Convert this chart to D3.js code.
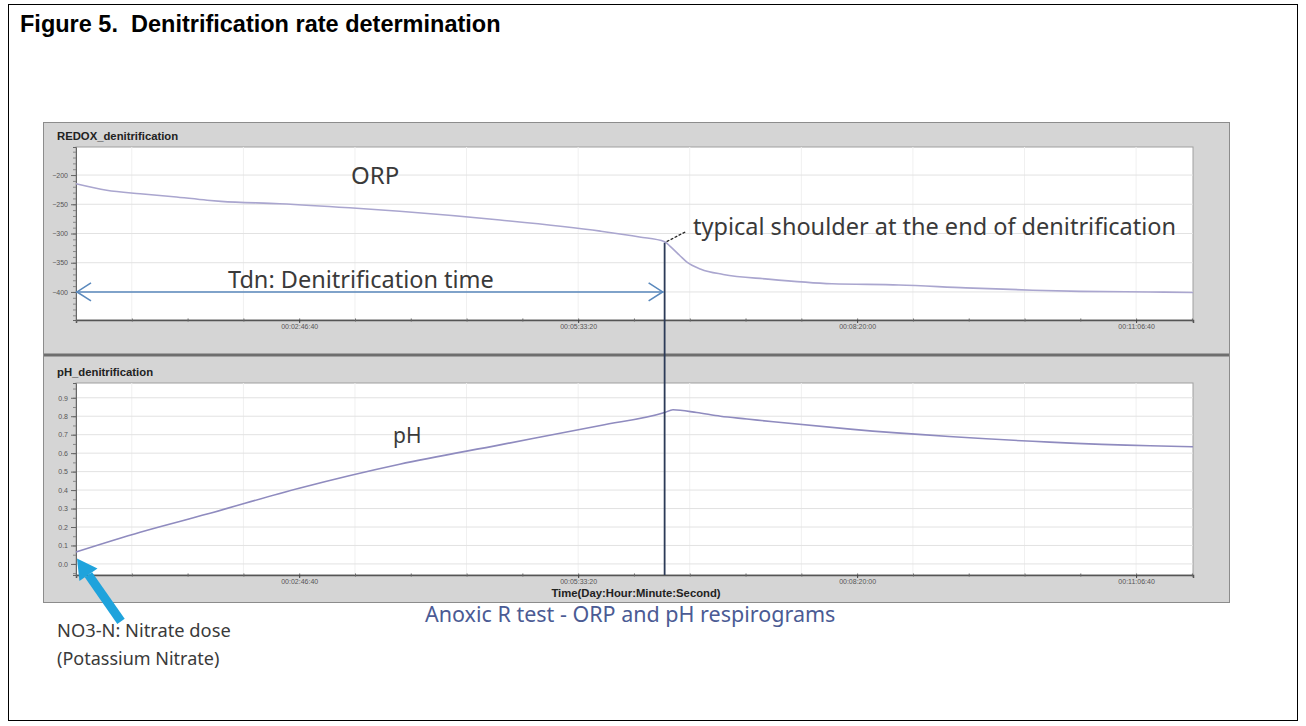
<!DOCTYPE html>
<html>
<head>
<meta charset="utf-8">
<script src="https://cdn.jsdelivr.net/npm/d3@7/dist/d3.min.js"></script>
<style>
    body { margin: 0; background: #fff; }
    svg { display: block; }
    .tick text { font-family: 'Liberation Sans', Arial, sans-serif; }
</style>
</head>
<body>
<svg id="chart" width="1306" height="726"></svg>
<script>
// time in seconds from start of the log
const orpTime = [2000, 3100, 4300, 5500, 6700, 7200, 9300, 11800, 13600, 17200, 20800, 22200, 23100,
    23300, 23650, 23900, 24400, 25200, 26800, 29100, 31500, 33900, 36300, 38000, 40500, 42040];
const orpValues = [-215, -226, -232, -237, -243, -245, -249, -256, -262, -277, -296, -306, -314,
    -322, -338, -349, -361, -370, -378, -386, -388, -393, -397, -399, -400, -401];

const phTime = [2000, 4300, 6700, 10000, 13600, 17200, 20800, 23100, 23400, 24250, 25100,
    26050, 27000, 29750, 33300, 36900, 40500, 42040];
const phValues = [0.065, 0.172, 0.27, 0.41, 0.54, 0.645, 0.75, 0.82, 0.835, 0.82, 0.80,
    0.785, 0.77, 0.73, 0.69, 0.66, 0.64, 0.635];

const orpTicks = [-200, -250, -300, -350, -400];
const phTicks = [0, 0.1, 0.2, 0.3, 0.4, 0.5, 0.6, 0.7, 0.8, 0.9];
const timeTicks = [10000, 20000, 30000, 40000];
const timeLabels = ['00:02:46:40', '00:05:33:20', '00:08:20:00', '00:11:06:40'];
const denitEnd = 23100;   // shoulder / end of denitrification

const svg = d3.select('#chart');
const annoFont = "'Noto Sans', 'Open Sans', sans-serif";
const uiFont = "'Liberation Sans', Arial, sans-serif";

// figure frame + title
svg.append('rect')
    .attr('x', 8.5).attr('y', 4.5)
    .attr('width', 1289).attr('height', 716)
    .attr('fill', '#fff').attr('stroke', '#000');

svg.append('text')
    .attr('x', 20).attr('y', 32)
    .attr('font-family', uiFont).attr('font-size', 23.5).attr('font-weight', 'bold')
    .style('white-space', 'pre')
    .text('Figure 5.  Denitrification rate determination');

// screenshot panel
svg.append('rect')
    .attr('x', 43.5).attr('y', 122.5)
    .attr('width', 1186).attr('height', 480)
    .attr('fill', '#d5d5d5').attr('stroke', '#8c8c8c');

svg.append('line')
    .attr('x1', 44).attr('x2', 1229)
    .attr('y1', 355).attr('y2', 355)
    .attr('stroke', '#6e6e6e').attr('stroke-width', 3);

const x = d3.scaleLinear().domain([2000, 42040]).range([76, 1193]);
const yOrp = d3.scaleLinear().domain([-152, -448]).range([147, 320]);
const yPh = d3.scaleLinear().domain([0.98, -0.06]).range([383, 575]);

function drawPanel(y, ticks, minorStep, fmt, title, times, values, color) {
    const [y0, y1] = y.range();
    const g = svg.append('g');

    g.append('rect')
        .attr('x', x.range()[0]).attr('y', y0)
        .attr('width', x.range()[1] - x.range()[0]).attr('height', y1 - y0)
        .attr('fill', '#fff').attr('stroke', '#a0a0a0');

    // grid
    g.append('g').selectAll('line')
        .data(d3.range(4000, 42001, 4000))
        .enter().append('line')
        .attr('x1', d => x(d)).attr('x2', d => x(d))
        .attr('y1', y0).attr('y2', y1)
        .attr('stroke', '#f0f0f0');

    g.append('g').selectAll('line')
        .data(ticks)
        .enter().append('line')
        .attr('x1', x.range()[0]).attr('x2', x.range()[1])
        .attr('y1', d => y(d)).attr('y2', d => y(d))
        .attr('stroke', '#e2e2e2');

    // title
    g.append('text')
        .attr('x', 57).attr('y', y0 - 7)
        .attr('font-family', uiFont).attr('font-size', 11.3).attr('font-weight', 'bold')
        .attr('fill', '#222')
        .text(title);

    // y axis
    const dom = y.domain();
    const minor = d3.range(Math.ceil(Math.min(...dom) / minorStep) * minorStep, Math.max(...dom), minorStep);
    g.append('g')
        .attr('transform', `translate(${x.range()[0]},0)`)
        .call(d3.axisLeft(y).tickValues(minor).tickSize(3).tickFormat(''))
        .call(a => a.select('.domain').attr('stroke', '#666'))
        .call(a => a.selectAll('.tick line').attr('stroke', '#888'));

    g.append('g')
        .attr('transform', `translate(${x.range()[0]},0)`)
        .call(d3.axisLeft(y).tickValues(ticks).tickSize(5).tickFormat(fmt))
        .call(a => a.select('.domain').remove())
        .call(a => a.selectAll('.tick line').attr('stroke', '#666'))
        .call(a => a.selectAll('.tick text').attr('font-size', 7).attr('fill', '#555'));

    // x axis
    g.append('g')
        .attr('transform', `translate(0,${y1})`)
        .call(d3.axisBottom(x).tickValues(d3.range(2000, 42001, 2000)).tickSize(3).tickFormat(''))
        .call(a => a.select('.domain').attr('stroke', '#555').attr('stroke-width', 1.5))
        .call(a => a.selectAll('.tick line').attr('stroke', '#666').attr('transform', 'translate(0,-1.5)'));

    g.append('g')
        .attr('transform', `translate(0,${y1})`)
        .call(d3.axisBottom(x).tickValues(timeTicks).tickSize(3).tickPadding(1).tickFormat((d, i) => timeLabels[i]))
        .call(a => a.select('.domain').remove())
        .call(a => a.selectAll('.tick line').attr('stroke', '#444'))
        .call(a => a.selectAll('.tick text').attr('font-size', 7).attr('fill', '#555').attr('dy', '0.7em'));

    // series
    const line = d3.line()
        .x((d, i) => x(times[i]))
        .y(d => y(d))
        .curve(d3.curveMonotoneX);

    g.append('path')
        .datum(values)
        .attr('d', line)
        .attr('fill', 'none')
        .attr('stroke', color)
        .attr('stroke-width', 1.6);
    return g;
}

drawPanel(yOrp, orpTicks, 10, d3.format('d'), 'REDOX_denitrification', orpTime, orpValues, '#aaa6cf');
drawPanel(yPh, phTicks, 0.05, d3.format('.1f'), 'pH_denitrification', phTime, phValues, '#8f8bbf');

svg.append('text')
    .attr('x', 636).attr('y', 597)
    .attr('text-anchor', 'middle')
    .attr('font-family', uiFont).attr('font-size', 11.3).attr('font-weight', 'bold')
    .attr('fill', '#222')
    .text('Time(Day:Hour:Minute:Second)');

// annotations
const textColor = '#3a3a3a';
function label(px, py, txt, size, color) {
    svg.append('text')
        .attr('x', px).attr('y', py)
        .attr('font-family', annoFont).attr('font-size', size)
        .attr('fill', color || textColor)
        .text(txt);
}

// end of denitrification marker
const xEnd = x(denitEnd);
svg.append('line')
    .attr('x1', xEnd).attr('x2', xEnd)
    .attr('y1', yOrp(-316)).attr('y2', yPh.range()[1])
    .attr('stroke', '#2c3b58').attr('stroke-width', 1.8);

svg.append('line')
    .attr('x1', xEnd + 2).attr('y1', yOrp(-314))
    .attr('x2', xEnd + 21).attr('y2', yOrp(-297))
    .attr('stroke', '#222').attr('stroke-width', 1.3)
    .attr('stroke-dasharray', '3,1.5');

// Tdn double arrow
const yArrow = yOrp(-400);
const tdn = svg.append('g').attr('stroke', '#5a89bd').attr('stroke-width', 1.6).attr('fill', 'none');
tdn.append('line')
    .attr('x1', x(2000)).attr('x2', xEnd - 1)
    .attr('y1', yArrow).attr('y2', yArrow);
tdn.append('path')
    .attr('d', `M${x(2000) + 15},${yArrow - 9}L${x(2000) + 1},${yArrow}L${x(2000) + 15},${yArrow + 9}`);
tdn.append('path')
    .attr('d', `M${xEnd - 16},${yArrow - 9}L${xEnd - 2},${yArrow}L${xEnd - 16},${yArrow + 9}`);

// nitrate dose arrow
const tipX = x(2000) + 1, tipY = yPh(0.03);
const tailX = tipX + 44, tailY = tipY + 63;
const ang = Math.atan2(tipY - tailY, tipX - tailX);
const headLen = 20, headW = 11;
const bx = tipX - headLen * Math.cos(ang), by = tipY - headLen * Math.sin(ang);
svg.append('line')
    .attr('x1', tailX).attr('y1', tailY)
    .attr('x2', bx).attr('y2', by)
    .attr('stroke', '#1fa3dc').attr('stroke-width', 9);
svg.append('path')
    .attr('d', `M${tipX},${tipY}L${bx + headW * Math.sin(ang)},${by - headW * Math.cos(ang)}L${bx - headW * Math.sin(ang)},${by + headW * Math.cos(ang)}Z`)
    .attr('fill', '#1fa3dc');

label(351, 184, 'ORP', 24);
label(228, 288, 'Tdn: Denitrification time', 23.5);
label(693, 235, 'typical shoulder at the end of denitrification', 23.5);
label(393, 443, 'pH', 21);
label(57, 637, 'NO3-N: Nitrate dose', 18.3);
label(57, 665, '(Potassium Nitrate)', 18);
label(425, 622, 'Anoxic R test - ORP and pH respirograms', 21.5, '#4b5b94');
</script>
</body>
</html>
